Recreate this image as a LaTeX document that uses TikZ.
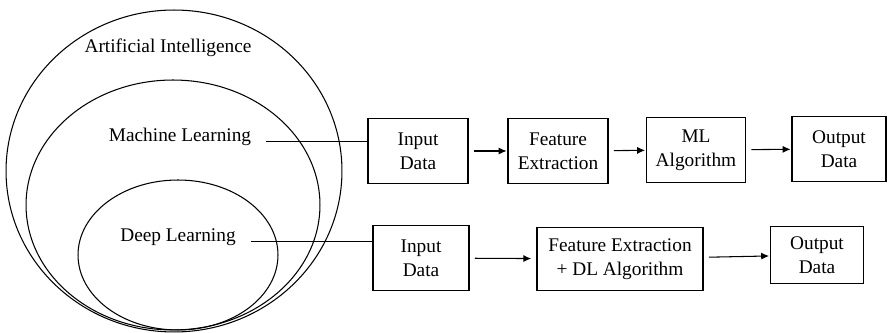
\documentclass[tikz,border=0pt]{standalone}
\usepackage{fontspec}
\setmainfont{Liberation Serif}
\newfontfamily\timesfont{Liberation Serif}
\usetikzlibrary{arrows.meta,positioning}

\begin{document}
\begin{tikzpicture}[x=0.02cm, y=-0.02cm, line width=0.6pt,
  >={Latex[length=4.5pt,width=4pt]},
  lbl/.style={font=\timesfont\fontsize{11}{13.5}\selectfont},
  box/.style={draw, lbl, align=center, inner sep=0pt, minimum height=1.3cm},
  flow/.style={->, shorten <=3pt, shorten >=0.5pt}]
  \useasboundingbox (0,0) rectangle (889,333);
  \draw (174,171) ellipse [x radius=3.36cm, y radius=3.22cm];
  \draw (173,205) ellipse [x radius=2.94cm, y radius=2.5cm];
  \draw (178,255) ellipse [x radius=2cm, y radius=1.5cm];
  \node[lbl] (ai) at (168,48)  {Artificial Intelligence};
  \node[lbl] (ml) at (180,137) {Machine Learning};
  \node[lbl] (dl) at (178,237) {Deep Learning};
  \node[box, minimum width=2cm]    (in1)  at (418,151) {Input\\Data};
  \node[box, minimum width=2cm]    (fe)   at (558,151) {Feature\\Extraction};
  \node[box, minimum width=1.98cm] (alg)  at (696,150) {ML\\Algorithm};
  \node[box, minimum width=1.88cm] (out1) at (839,149) {Output\\Data};
  \node[box, minimum width=1.92cm] (in2)  at (421,258) {Input\\Data};
  \node[box, minimum width=3.32cm, minimum height=1.26cm] (fedl) at (620,259) {Feature Extraction\\+ DL Algorithm};
  \node[box, minimum width=1.86cm, minimum height=1.14cm] (out2) at (817,255) {Output\\Data};
  \draw[shorten <=5pt] (ml.base east) -- (ml.base east -| in1.west);
  \draw[shorten <=5pt] (dl.base east) -- (dl.base east -| in2.west);
  \draw[flow] (in1) -- (fe);
  \draw[flow] (fe) -- (alg);
  \draw[flow] (alg) -- (out1);
  \draw[flow, shorten >=3pt] (in2) -- (fedl);
  \draw[flow] (fedl) -- (out2);
\end{tikzpicture}
\end{document}
